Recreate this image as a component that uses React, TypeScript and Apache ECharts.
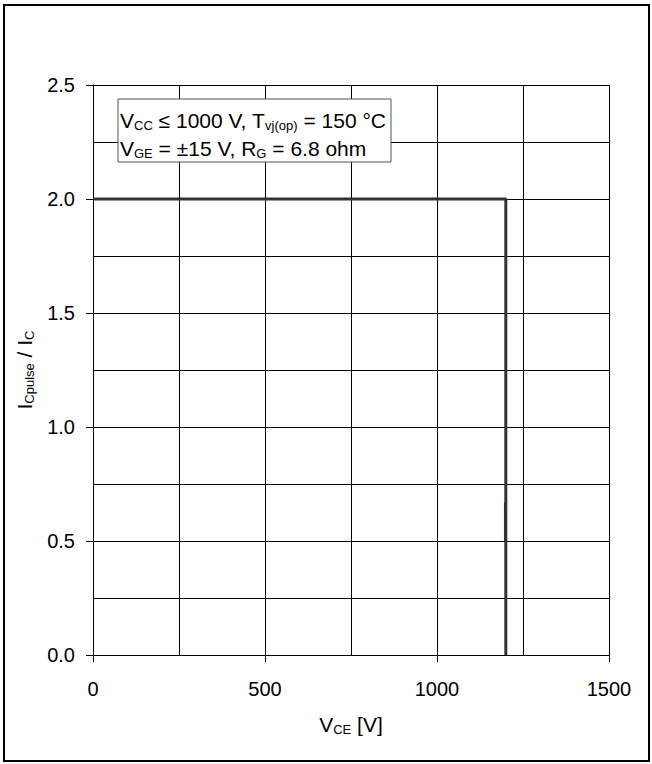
import React, { useEffect, useRef } from "react";
import * as echarts from "echarts";

const xTicks = [0, 500, 1000, 1500];
const yTicks = [0, 0.5, 1.0, 1.5, 2.0, 2.5];
const soaX = [0, 1200, 1200];
const soaY = [2.0, 2.0, 0];
const stepX = [1199, 1199];
const stepY = [0.67, 0.5];

const FONT = "'Liberation Sans', Arial, sans-serif";

export default function App() {
  const ref = useRef<HTMLDivElement>(null);
  useEffect(() => {
    if (!ref.current) return;
    const chart = echarts.init(ref.current, null, { renderer: "svg" });
    const sub = { fontSize: 13, fontFamily: FONT, color: "#000", verticalAlign: "bottom", padding: [0, 0, -1, 0] };
    const main = { fontSize: 21, fontFamily: FONT, color: "#000" };
    chart.setOption({
      animation: false,
      backgroundColor: "#fff",
      grid: { left: 93, right: 43, top: 85, bottom: 109, containLabel: false },
      xAxis: {
        type: "value",
        min: xTicks[0],
        max: xTicks[xTicks.length - 1],
        interval: 500,
        name: "{m|V}{s|CE}{m| [V]}",
        nameLocation: "middle",
        nameGap: 59,
        nameTextStyle: { rich: { m: main, s: sub } },
        axisLine: { show: true, lineStyle: { color: "#000", width: 1 } },
        axisTick: { show: true, length: 7, inside: false, lineStyle: { color: "#000" } },
        axisLabel: {
          fontSize: 20,
          fontFamily: FONT,
          color: "#000",
          margin: 24,
          formatter: (v: number) => String(v),
        },
        splitLine: { show: true, lineStyle: { color: "#000", width: 1 } },
        minorTick: { show: false, splitNumber: 2 },
        minorSplitLine: { show: true, lineStyle: { color: "#000", width: 1 } },
      },
      yAxis: {
        type: "value",
        min: yTicks[0],
        max: yTicks[yTicks.length - 1],
        interval: 0.5,
        name: "{m|I}{s|Cpulse}{m| / I}{s|C}",
        nameLocation: "middle",
        nameGap: 40,
        nameRotate: 90,
        nameTextStyle: { rich: { m: main, s: sub } },
        axisLine: { show: true, lineStyle: { color: "#000", width: 1 } },
        axisTick: { show: true, length: 7, inside: false, lineStyle: { color: "#000" } },
        axisLabel: {
          fontSize: 20,
          fontFamily: FONT,
          color: "#000",
          margin: 18,
          formatter: (v: number) => v.toFixed(1),
        },
        splitLine: { show: true, lineStyle: { color: "#000", width: 1 } },
        minorTick: { show: false, splitNumber: 2 },
        minorSplitLine: { show: true, lineStyle: { color: "#000", width: 1 } },
      },
      series: [
        {
          type: "line",
          data: soaX.map((x, i) => [x, soaY[i]]),
          symbol: "none",
          lineStyle: { color: "#333", width: 3 },
          z: 5,
        },
        {
          type: "line",
          data: stepX.map((x, i) => [x, stepY[i]]),
          symbol: "none",
          lineStyle: { color: "#333", width: 3 },
          z: 5,
        },
      ],
      graphic: [
        {
          type: "rect",
          shape: { x: 4, y: 5, width: 645, height: 756 },
          style: { fill: "none", stroke: "#000", lineWidth: 2 },
          z: 100,
        },
        {
          type: "rect",
          shape: { x: 118, y: 99, width: 273, height: 63 },
          style: { fill: "#fff", stroke: "#555", lineWidth: 1 },
          z: 50,
        },
        {
          type: "text",
          x: 120,
          y: 120,
          style: {
            text: "{m|V}{s|CC}{m| ≤ 1000 V, T}{s|vj(op)}{m| = 150 °C}",
            rich: { m: main, s: sub },
            verticalAlign: "middle",
          },
          z: 51,
        },
        {
          type: "text",
          x: 120,
          y: 148,
          style: {
            text: "{m|V}{s|GE}{m| = ±15 V, R}{s|G}{m| = 6.8 ohm}",
            rich: { m: main, s: sub },
            verticalAlign: "middle",
          },
          z: 51,
        },
      ],
    });
    return () => chart.dispose();
  }, []);
  return (
    <div
      ref={ref}
      style={{ position: "fixed", left: 0, top: 0, width: 652, height: 764, background: "#fff" }}
    />
  );
}
